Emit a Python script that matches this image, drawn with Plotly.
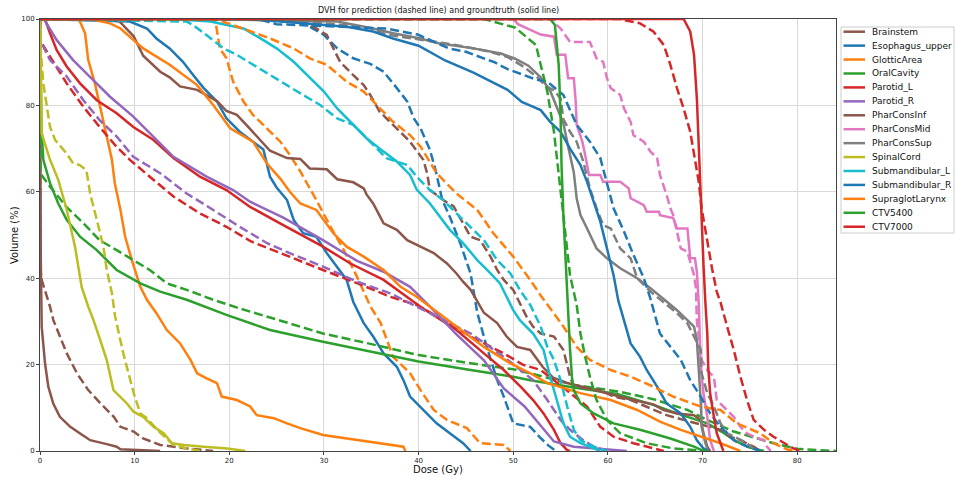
import plotly.graph_objects as go

# ---------------- data (dose in Gy, volume in %) ----------------
roi_names = ["Brainstem", "Esophagus_upper", "GlotticArea", "OralCavity", "Parotid_L",
             "Parotid_R", "PharConsInf", "PharConsMid", "PharConsSup", "SpinalCord",
             "Submandibular_L", "Submandibular_R", "SupraglotLarynx", "CTV5400", "CTV7000"]
roi_colors = ["#8c564b", "#1f77b4", "#ff7f0e", "#2ca02c", "#d62728",
              "#9467bd", "#8c564b", "#e377c2", "#7f7f7f", "#bcbd22",
              "#17becf", "#1f77b4", "#ff7f0e", "#2ca02c", "#d62728"]

brainstem_gt_dose = [0, 0.02, 0.08, 0.18, 0.53, 0.88, 1.4, 2.1, 3.2, 4.2, 5.3, 7.05, 8.1, 8.5, 12.7]
brainstem_gt_vol = [100, 60, 45, 28.8, 20.3, 14.9, 11, 7.9, 5.6, 4.1, 2.5, 1.6, 1, 0.4, 0]
brainstem_pr_dose = [0, 0.03, 0.18, 1.06, 1.41, 2.83, 3.9, 5.1, 6.4, 7.8, 8.5, 9.9, 10.9, 12.7, 15.5, 18.3]
brainstem_pr_vol = [100, 42, 39.6, 33.4, 30.3, 22.6, 18, 14.1, 11, 7.9, 5.6, 4.5, 2.9, 1.4, 0.6, 0]

esophagus_gt_dose = [0, 9.5, 11.3, 12.3, 13.7, 15.1, 16.2, 17.3, 18.7, 19.7, 21.1, 22.5, 23.6, 24.3, 25,
                     26.1, 26.8, 27.8, 29.2, 30.3, 31.4, 32.4, 33.1, 34.2, 35.2, 36.3, 37.7, 38.4, 39.1,
                     40.5, 41.9, 43.3, 44.7, 45.5]
esophagus_gt_vol = [100, 99.4, 97.8, 95.5, 93.2, 90.1, 87, 84, 80.9, 77, 73.9, 71.6, 69.8, 63.5, 61,
                    58.1, 53.5, 50.4, 49.6, 45.8, 42.7, 39.6, 34.5, 29.6, 26.5, 22.6, 19.5, 16.4, 12.6,
                    9.5, 6.4, 4.1, 1.8, 0]
esophagus_pr_dose = [0, 27.5, 28.2, 30, 31.4, 33.1, 34.9, 36.3, 37.7, 38.8, 39.5, 40.2, 41.2, 41.8, 42.5,
                     43.3, 44.4, 45.5, 46.2, 47.2, 48.3, 49, 50, 51.8, 52.8, 53.7, 54.5]
esophagus_pr_vol = [100, 100, 98.6, 96.3, 93.2, 90.9, 89.6, 87.8, 84, 80.9, 77, 74.7, 69.7, 65, 58.1,
                    54.2, 48.1, 41, 32, 24.1, 16.4, 12.6, 6.4, 5.6, 3.2, 1.3, 0]

glottic_gt_dose = [0, 4.1, 4.76, 5.1, 5.8, 6.2, 7.05, 7.6, 7.9, 8.5, 9, 9.7, 10.6, 11.3, 12.3, 13.4, 14.8,
                   15.9, 16.6, 17.6, 18.7, 19.2, 20.8, 22.2, 22.9, 24.7, 26.1, 27.5, 29.9, 34.9, 38.4, 38.6]
glottic_gt_vol = [100, 100, 96.7, 90.5, 85.1, 81.2, 73.5, 67.4, 62, 55.8, 49.6, 44.2, 38, 35, 31.9, 28, 24.9,
                  21.1, 18, 16.8, 15.7, 12.6, 11.8, 10.3, 8.3, 7.6, 6.4, 5.3, 3.7, 2.2, 1, 0]
glottic_pr_dose = [0, 18.5, 19, 19.7, 20.4, 21.5, 22.5, 24, 25.4, 26.4, 27.5, 28.5, 29.2, 30.7, 32.1, 33.5,
                   34.9, 36, 37.3, 39.1, 40.2, 41.6, 43, 45.1, 46.5, 49, 49.7]
glottic_pr_vol = [100, 100, 93.2, 90.9, 85.5, 80.9, 77.8, 74.7, 71.6, 68.5, 64.7, 60.8, 58.1, 51.9, 46.5, 40.3,
                  33.5, 29.6, 21.8, 18, 14.1, 9.5, 7.2, 5.3, 1.8, 1.4, 0]

oral_gt_dose = [0, 0.05, 0.15, 0.35, 1.06, 1.93, 2.82, 4.23, 6.0, 8.1, 10.6, 12.7, 15.5, 19.7, 24.3, 29.9,
                34.9, 40, 45.5, 50, 51.8, 56.4, 61, 65.2, 67.3, 70.5, 72, 73.5, 75, 76.5]
oral_gt_vol = [100, 92, 75, 67.4, 62, 57.3, 53.5, 49.6, 46.5, 41.9, 38.8, 36.9, 35, 31.5, 28, 25.3,
               23, 20.7, 18.75, 17.2, 16.4, 14.7, 13.2, 10.4, 8.7, 6.4, 4.5, 2.3, 0.8, 0]
oral_pr_dose = [0, 0.03, 1.06, 2.8, 4.6, 6.3, 8.1, 9.9, 11.6, 13.4, 15.5, 18.3, 21.1, 24.3, 29.9, 34.9, 40,
                45.5, 50, 51.8, 56.4, 61.3, 64.8, 68.4, 70.5, 73.3, 77.5, 80, 84.1]
oral_pr_vol = [100, 64.3, 61.2, 56.5, 52.7, 48.8, 46.5, 44.2, 41.9, 38.8, 37.3, 35, 33, 30.9, 27.2, 24.8, 22.2,
               20.3, 18.9, 18, 15.3, 13.7, 12, 9.5, 7.2, 4.5, 1.8, 0.5, 0]

parotid_l_gt_dose = [0, 0.53, 1.06, 1.77, 2.82, 4.23, 6, 8.1, 9.86, 12, 14.1, 16.9, 19.7, 22.2, 25.7, 29.9,
                     32.8, 36.3, 40.2, 44, 46.9, 49, 50.9, 52.1, 53.2, 54.3, 55, 55.7, 56]
parotid_l_gt_vol = [100, 100, 96.7, 92.8, 89, 85.1, 81.2, 78.2, 75, 72, 67.8, 63.5, 60.4, 56.5, 52.3, 47.3,
                    43.4, 39.6, 33.4, 28, 22.6, 18.75, 14.6, 11.8, 8.7, 4.9, 1.8, 0.2, 0]
parotid_l_pr_dose = [0, 0.03, 1.06, 2.82, 4.58, 6.3, 8.1, 9.5, 11.6, 14.1, 16.9, 19.7, 22.3, 25.6, 29.9, 33.9,
                     37, 39.8, 42, 45.5, 49, 51, 52.9, 54.3, 56, 57.8, 59.2, 60.6, 62.7, 64.8, 65.9]
parotid_l_pr_vol = [100, 95, 91.3, 85.1, 79.7, 75, 70.4, 67.4, 63.5, 58.9, 55, 51.9, 48.5, 45.6, 41.9, 38.5,
                    35.7, 33.8, 31.1, 26.5, 22.6, 20, 18.75, 16.4, 13.4, 10.3, 5.6, 3.3, 1.8, 0.6, 0]

parotid_r_gt_dose = [0, 0.4, 1.77, 3.5, 5.6, 7.4, 9.86, 12.3, 14.1, 17.6, 20.4, 22.2, 25.7, 29.9, 33.5, 36.3,
                     39.1, 41.2, 44, 46.9, 49, 51.2, 52.1, 53.6, 54.3, 56.4, 59, 62]
parotid_r_gt_vol = [100, 100, 95.1, 90.5, 85.9, 82, 77.4, 72, 68.1, 63.5, 60.4, 57.7, 54, 48.8, 44, 41.5,
                    38, 33.4, 27, 21, 14.5, 10.3, 7.9, 4.1, 2.2, 1, 0.5, 0]
parotid_r_pr_dose = [0, 0.03, 1.06, 2.82, 4.58, 6.3, 8.1, 9.86, 12.7, 15.5, 18.3, 21.1, 24, 26.4, 29.9, 33.5,
                     37, 41.2, 45.5, 49, 50.7, 52.1, 53.6, 55, 56, 57.4, 58.5, 59.9]
parotid_r_pr_vol = [100, 95, 90.5, 86.7, 81.2, 76.6, 72.8, 68.1, 64.3, 59.6, 55.8, 51.9, 48.1, 45.8, 42.7, 39.2,
                    36.5, 31.9, 27.2, 21.8, 18.75, 16.4, 11.8, 7.2, 4.9, 2.5, 1, 0]

pcinf_gt_dose = [0, 7.9, 8.5, 9.9, 10.9, 12, 12.7, 13.7, 14.8, 16.6, 18.7, 19.7, 20.8, 21.8, 23.3, 24.3,
                 26.1, 27.5, 28.5, 30.3, 31.4, 33.1, 34.2, 34.5, 35.2, 36.3, 37.7, 38.8, 40.2, 41.6, 43, 44,
                 44.7, 45.5, 46.9, 48.3, 49.3, 50.4, 51.8, 53.1, 54.2, 55.6, 57.8, 59.6, 62.3, 64.8, 65.9,
                 67.3, 69.1, 69.8, 70.1, 70.5, 70.8]
pcinf_gt_vol = [100, 100, 99.2, 96, 91.5, 89.2, 87.8, 86.5, 84.4, 83.6, 81, 78.7, 77.8, 75.5, 71.8, 69.5,
                67.8, 67.6, 65.4, 65.2, 62.9, 62.2, 60.8, 59.4, 57.3, 52.7, 51.2, 48.8, 47.3, 45.8, 43.4, 41.1,
                39.2, 37.3, 32, 29.6, 26.5, 24.1, 23.4, 19.5, 17, 15.8, 14.6, 13.5, 12, 10.8, 9.5,
                8.7, 8.3, 7.2, 4.1, 1, 0]
pcinf_pr_dose = [0, 27.5, 28.9, 30.3, 31, 31.7, 33.1, 34.2, 34.9, 35.9, 37.3, 39.1, 39.8, 40.5, 40.9, 41.2,
                 42.6, 43.7, 44.7, 45.5, 46.5, 47.6, 48.3, 49, 50, 50.7, 51.4, 52.1, 52.9, 54.3, 55.3, 56,
                 56.4, 59.2, 60.6, 62.4, 64.8, 66.2, 68, 69.4, 70.5, 71.9, 72.9, 74, 75.4, 76.1]
pcinf_pr_vol = [100, 100, 98.2, 96.3, 93.2, 90.1, 87, 84.7, 82.4, 78.5, 75.5, 71.6, 69.5, 67.4, 64.3, 60.4,
                58.1, 56.6, 52.7, 49.6, 48.8, 45, 41.9, 39.6, 37.3, 34, 31.1, 28.8, 27.2, 26.5, 23.4, 17.2,
                14.9, 14.1, 12.6, 11.8, 9.5, 8.3, 7.2, 6.4, 5.6, 4.9, 3.3, 2.5, 1, 0]

pcmid_gt_dose = [0, 50, 50.5, 52.9, 54.3, 54.6, 55.5, 55.8, 56.4, 56.6, 56.7, 57.3, 57.6, 58, 59.2, 59.5,
                 61.3, 62.2, 62.4, 63.8, 64.1, 65.4, 65.5, 66.9, 67.3, 68.4, 68.7, 69.2, 69.4, 69.6, 69.7,
                 69.8, 70.1, 70.5, 70.8, 71.2]
pcmid_gt_vol = [100, 100, 98.8, 96.4, 95.9, 91.7, 91.7, 86.3, 86.3, 80.9, 75.5, 71.6, 68.5, 63.9, 63.9, 62.3,
                62.3, 60.8, 58.5, 56.9, 55.4, 55.4, 54.6, 53.9, 51.5, 51.5, 44.6, 44.6, 41.5, 34, 27,
                19.5, 13.4, 7.9, 2.5, 0]
pcmid_pr_dose = [0, 54.3, 54.6, 55, 56, 58.1, 58.8, 59.5, 59.9, 60.3, 61.3, 61.7, 62.4, 62.7, 63.8, 64.5,
                 65.2, 65.5, 66.2, 66.6, 66.9, 67.3, 67.7, 68.4, 68.7, 69.1, 69.3, 69.4, 69.9, 70.6, 71.2,
                 71.5, 72.2, 72.6, 73.3, 74, 74.7, 75.4, 76.5, 76.8, 77.2]
pcmid_pr_vol = [100, 100, 98.6, 97.8, 94.7, 94.7, 90.9, 90.1, 86.3, 84, 82.4, 79.3, 76.2, 73.1, 71.6, 69.3,
                67.8, 63.9, 59.3, 56.2, 54.6, 50.8, 46.9, 46.1, 43.8, 40.7, 37.7, 30, 21.1, 18.4, 17.2,
                11.8, 10.3, 9.5, 7.9, 5.6, 4.1, 3.3, 2.5, 1, 0]

pcsup_gt_dose = [0, 17.6, 31.4, 35.2, 37.3, 40.2, 42.1, 45.8, 48.7, 50.2, 51.6, 52.9, 53.9, 54.6, 55.3, 55.8,
                 56.4, 56.7, 57.1, 57.8, 58.8, 59.9, 61.3, 63.1, 64.5, 66.2, 67.3, 68.4, 69.1, 69.4, 69.6,
                 69.8, 69.9, 70.3, 70.6]
pcsup_gt_vol = [100, 100, 99.4, 97.8, 96.7, 95.5, 94.4, 93.2, 92, 90.8, 89.2, 86.5, 83.4, 79.6, 75.8, 70.5,
                64.5, 58.5, 54.6, 51.5, 46.9, 44.6, 42.3, 40, 37.7, 34.6, 32.6, 30.3, 28.8, 25.7, 19.5,
                11.8, 5.6, 1.8, 0]
pcsup_pr_dose = [0, 25, 33, 34.8, 36.6, 40.3, 43.9, 47.6, 49.4, 50.9, 52.4, 53.5, 54.3, 55, 55.3, 56, 56.7,
                 57.4, 58.1, 58.8, 59.5, 60.3, 61.3, 62.4, 63.1, 64.5, 65.9, 67.3, 68.4, 69.1, 69.8, 69.9,
                 70.5, 71.2, 71.9, 72.6, 73.3, 74.7, 75.4, 76.1]
pcsup_pr_vol = [100, 100, 98.4, 98, 96.4, 95.2, 94, 92.4, 91.2, 89.2, 86.8, 84.4, 83.5, 81.6, 76.8, 73.9, 71.6,
                67, 60.8, 56.2, 52.3, 51.5, 46.9, 44.6, 40, 36.9, 34.4, 31.9, 29.6, 26.5, 23.4, 18,
                13.4, 10.3, 6.4, 4.1, 3.3, 1.8, 0.6, 0]

spinal_gt_dose = [0, 0.05, 0.18, 0.7, 1.06, 1.94, 2.83, 3.7, 4.4, 5.1, 5.65, 6.36, 7.06, 7.76, 9.18, 9.88,
                  10.9, 12, 13.06, 13.95, 15.2, 17.3, 19.8, 21.7]
spinal_gt_vol = [100, 96, 73.5, 69.7, 67.4, 62.7, 55.8, 47.3, 38, 33.4, 30.3, 25.7, 21, 14.1, 11, 9.1,
                 7.9, 5.6, 4.1, 1.8, 1.4, 1, 0.6, 0]
spinal_pr_dose = [0, 0.1, 0.35, 0.7, 1.06, 1.6, 2.8, 3.5, 4.2, 4.9, 5.3, 6.0, 6.7, 7.06, 7.6, 7.94, 8.8, 9.35,
                  9.9, 10.6, 11.3, 12.4, 13.4, 14.1, 15.5, 17]
spinal_pr_vol = [100, 92, 85.1, 79.7, 75, 72, 68.9, 66.6, 66.2, 65, 59.6, 53.5, 47.3, 41.9, 36.5, 31.1, 22.6, 18,
                 13.4, 8.7, 7.6, 4.9, 2.9, 1.4, 0.6, 0]

submand_l_gt_dose = [0, 14, 18, 19.7, 21.5, 23.3, 25, 26.8, 28.2, 30, 31.4, 33.1, 34.5, 36.3, 37.7, 39.1,
                     39.8, 41.2, 42.3, 43.3, 44.7, 46.2, 47.6, 48.6, 49.3, 50, 50.7, 52.1, 53.2, 53.9, 54.6,
                     55.3, 56, 57.1, 58.5, 59.2]
submand_l_gt_vol = [100, 100, 99.4, 98.6, 97.8, 95.5, 93.2, 90.1, 87, 83.2, 79.3, 75.5, 72.4, 69.3, 67, 63.9,
                    60.5, 57.3, 54.2, 51.2, 48.1, 44.2, 41.1, 38.8, 35.7, 32.6, 30.3, 27.2, 23.4, 17.2, 11.8,
                    6.4, 3.3, 1.8, 0.6, 0]
submand_l_pr_dose = [0, 15.5, 16.2, 17.6, 19.4, 20.8, 22.5, 24.3, 26.1, 27.8, 29.6, 31.4, 33.1, 34.9, 36.6,
                     38.8, 39.8, 41.2, 42.6, 44, 45.5, 46.9, 48.3, 49.7, 50.7, 51.8, 52.9, 53.6, 54.3, 55,
                     55.7, 56.4, 57.1, 58.5, 59.9]
submand_l_pr_vol = [100, 99.4, 98.6, 96.3, 93.2, 91.7, 89.4, 87, 84.7, 82.4, 80.1, 77, 75.5, 71.6, 67.8,
                    66.2, 63.5, 60.4, 58.1, 55, 51.9, 48.8, 44.2, 41.1, 37.3, 33.8, 28.8, 24.1, 21.1, 16.4,
                    10.3, 4.9, 2.5, 1, 0]

submand_r_gt_dose = [0, 22, 25.4, 32.4, 35.2, 37.3, 40, 42.8, 45.8, 48, 49.4, 50.9, 52.9, 53.9, 55, 56, 57.1,
                     57.8, 58.5, 59.2, 59.9, 60.6, 61.1, 61.7, 62.4, 63.4, 64.1, 65.2, 66.2, 67.7, 68.7, 69.4,
                     70.1, 70.6]
submand_r_gt_vol = [100, 100, 99.4, 98.2, 97.1, 95.5, 93.8, 90.4, 87.6, 85.2, 83.6, 80.8, 78.9, 76.2, 73.9, 70,
                    66.2, 62.3, 57.7, 53.1, 46.9, 40.7, 34.8, 30.3, 24.9, 21.8, 18.75, 14.9, 11, 8.7, 5.6, 2.5,
                    0.6, 0]
submand_r_pr_dose = [0, 23, 25, 30, 36.6, 39.9, 43.2, 45, 48, 49.4, 52.4, 53.6, 55.3, 56.7, 58.1, 59.2, 59.9,
                     60.6, 61.7, 62.7, 63.8, 64.5, 65.5, 66.6, 67.7, 68.7, 69.8, 70.8, 71.9, 73.3, 74.7, 76.1]
submand_r_pr_vol = [100, 100, 98.8, 98.4, 97.8, 96.4, 93.2, 92.4, 90, 88.4, 86, 85.5, 82.4, 75.5, 71.6, 67.8,
                    62.3, 56.2, 50.8, 45.4, 40, 35.2, 27.2, 24.1, 21.1, 16.4, 12.6, 8.7, 5.6, 2.5, 1, 0]

supraglot_gt_dose = [0, 5.3, 7.4, 8.5, 10.9, 13.7, 16.6, 18.3, 20.1, 22.5, 24, 25.4, 26.4, 27.5, 29.2, 31,
                     32.4, 34.2, 36.3, 38.1, 39.8, 41.4, 44, 46.9, 49.7, 51.8, 53.6, 57.1, 60.3, 63.1, 65.5,
                     67.7, 69.8, 71.9, 74]
supraglot_gt_vol = [100, 100, 99, 97.8, 93.2, 89.4, 84.7, 80.1, 74.7, 71.6, 66.5, 63, 60, 57.3, 55.8, 50.4,
                    47.3, 45, 41.9, 38, 35.7, 33, 28.8, 24.1, 20.3, 18, 15.7, 13.4, 11.8, 9.5, 6.8,
                    4.9, 3.3, 1.8, 0]
supraglot_pr_dose = [0, 18.8, 21.8, 24.3, 26.8, 28.5, 30.3, 32.4, 34.2, 35.6, 37.3, 39.1, 40.2, 41.9, 44, 46.2,
                     47.9, 50, 51.8, 52.9, 54.3, 55.3, 56.7, 58.1, 60.3, 62.4, 64.8, 66.9, 69.8, 71.9, 73.6,
                     76.1, 77.5, 78.9, 79.6]
supraglot_pr_vol = [100, 99.8, 97.5, 95.5, 93.2, 90.9, 89.4, 85.5, 83.2, 80.1, 76.2, 73.1, 70.5, 64.3, 59.6, 55.8,
                    50.4, 45, 39.6, 36, 31.9, 28.8, 24.1, 21.1, 18.75, 17.2, 14.9, 12.6, 10.3, 9.5, 6.4,
                    4.1, 1.8, 0.4, 0]

ctv54_gt_dose = [0, 53.9, 54.4, 54.8, 55, 55.1, 55.3, 55.5, 55.7, 56, 56.2, 56.4, 57.1, 58.5, 60.6, 63.4,
                 66.6, 69.1, 70.1]
ctv54_gt_vol = [100, 100, 98.6, 89.4, 77.8, 66.2, 54.6, 45.4, 34, 23.4, 17.2, 14.1, 11, 8.7, 6.4, 4.9,
                2.9, 1, 0]
ctv54_pr_dose = [0, 46.9, 50.2, 52.4, 52.9, 53.6, 54.3, 55, 55.5, 56, 56.7, 57.1, 57.6, 58.1, 58.8, 59.9,
                 61.3, 64.1, 66.9, 70.5]
ctv54_pr_vol = [100, 100, 98, 94, 89.4, 83.2, 73.9, 60.8, 50.8, 40.7, 33.8, 27.2, 21.8, 17.2, 11.8, 7.2,
                4.1, 1.8, 0.6, 0]

ctv70_gt_dose = [0, 68, 68.7, 69.1, 69.4, 69.6, 69.8, 69.9, 70.1, 70.3, 70.5, 70.6, 70.8, 71.2, 71.5, 71.9, 72.2]
ctv70_gt_vol = [100, 100, 97.1, 91.7, 81.6, 70, 62.3, 54.6, 43.1, 34.4, 27.2, 19.5, 13.4, 7.9, 4.1, 1.8, 0]
ctv70_pr_dose = [0, 61.2, 63.4, 64.8, 65.9, 66.6, 67.3, 68, 68.7, 69.2, 69.6, 69.9, 70.5, 71, 71.5, 71.9,
                 72.6, 73.3, 74, 74.7, 75.4, 76.5, 77.5, 78.6, 79.6, 80.3]
ctv70_pr_vol = [100, 100, 99, 97.1, 94, 89.4, 84, 79.3, 73.9, 67.8, 62.3, 56.2, 48.4, 42.3, 36.9, 34.4,
                28.8, 23.4, 17.2, 11.8, 7.2, 4.9, 3.3, 1.8, 0.6, 0]

x_ticks = [0, 10, 20, 30, 40, 50, 60, 70, 80]
y_ticks = [0, 20, 40, 60, 80, 100]
x_max = 84.1

# ---------------- assemble ----------------
gt_series = [
    (brainstem_gt_dose, brainstem_gt_vol), (esophagus_gt_dose, esophagus_gt_vol),
    (glottic_gt_dose, glottic_gt_vol), (oral_gt_dose, oral_gt_vol),
    (parotid_l_gt_dose, parotid_l_gt_vol), (parotid_r_gt_dose, parotid_r_gt_vol),
    (pcinf_gt_dose, pcinf_gt_vol), (pcmid_gt_dose, pcmid_gt_vol), (pcsup_gt_dose, pcsup_gt_vol),
    (spinal_gt_dose, spinal_gt_vol), (submand_l_gt_dose, submand_l_gt_vol),
    (submand_r_gt_dose, submand_r_gt_vol), (supraglot_gt_dose, supraglot_gt_vol),
    (ctv54_gt_dose, ctv54_gt_vol), (ctv70_gt_dose, ctv70_gt_vol)]
pr_series = [
    (brainstem_pr_dose, brainstem_pr_vol), (esophagus_pr_dose, esophagus_pr_vol),
    (glottic_pr_dose, glottic_pr_vol), (oral_pr_dose, oral_pr_vol),
    (parotid_l_pr_dose, parotid_l_pr_vol), (parotid_r_pr_dose, parotid_r_pr_vol),
    (pcinf_pr_dose, pcinf_pr_vol), (pcmid_pr_dose, pcmid_pr_vol), (pcsup_pr_dose, pcsup_pr_vol),
    (spinal_pr_dose, spinal_pr_vol), (submand_l_pr_dose, submand_l_pr_vol),
    (submand_r_pr_dose, submand_r_pr_vol), (supraglot_pr_dose, supraglot_pr_vol),
    (ctv54_pr_dose, ctv54_pr_vol), (ctv70_pr_dose, ctv70_pr_vol)]

W, H = 956, 478
ML, MR, MT, MB = 40, 120, 19, 27
PW, PH = W - ML - MR, H - MT - MB
FONT = "DejaVu Sans"


def paper_x(px):
    return (px - ML) / PW


def paper_y(py):
    return (H - MB - py) / PH


fig = go.Figure()
for name, color, (gx, gy), (px_, py_) in zip(roi_names, roi_colors, gt_series, pr_series):
    fig.add_trace(go.Scatter(x=gx, y=gy, mode="lines", name=name,
                             line=dict(color=color, width=2.5), showlegend=False))
    fig.add_trace(go.Scatter(x=px_, y=py_, mode="lines", name=name + " (pred)",
                             line=dict(color=color, width=2.5, dash="9px,4px"), showlegend=False))

# legend drawn as shapes + text (matplotlib-like compact legend)
shapes = [dict(type="rect", xref="paper", yref="paper",
               x0=paper_x(841), x1=paper_x(954), y0=paper_y(233), y1=paper_y(27),
               line=dict(color="#cccccc", width=1), fillcolor="white", layer="above")]
annotations = []
for i, (name, color) in enumerate(zip(roi_names, roi_colors)):
    yy = 31.7 + 13.93 * i
    shapes.append(dict(type="line", xref="paper", yref="paper",
                       x0=paper_x(843.5), x1=paper_x(865), y0=paper_y(yy), y1=paper_y(yy),
                       line=dict(color=color, width=2.5), layer="above"))
    annotations.append(dict(text=name, xref="paper", yref="paper", x=paper_x(870), y=paper_y(yy),
                            xanchor="left", yanchor="middle", showarrow=False,
                            font=dict(family=FONT, size=9, color="#111")))

annotations.append(dict(text="DVH for prediction (dashed line) and groundtruth (solid line)",
                        xref="paper", yref="paper", x=0.5, y=paper_y(11), xanchor="center",
                        yanchor="middle", showarrow=False, font=dict(family=FONT, size=8, color="#111")))
annotations.append(dict(text="Dose (Gy)", xref="paper", yref="paper", x=0.5, y=paper_y(469),
                        xanchor="center", yanchor="middle", showarrow=False,
                        font=dict(family=FONT, size=10, color="#111")))
annotations.append(dict(text="Volume (%)", xref="paper", yref="paper", x=paper_x(14), y=0.5,
                        xanchor="center", yanchor="middle", showarrow=False, textangle=-90,
                        font=dict(family=FONT, size=10, color="#111")))

axis_common = dict(showgrid=True, gridcolor="#d9d9d9", gridwidth=1, zeroline=False,
                   showline=True, mirror=True, linecolor="#444", linewidth=1,
                   ticks="outside", ticklen=3, tickwidth=1, tickcolor="#444",
                   tickfont=dict(family=FONT, size=7, color="#222"))

fig.update_layout(
    width=W, height=H, margin=dict(l=ML, r=MR, t=MT, b=MB, autoexpand=False),
    paper_bgcolor="white", plot_bgcolor="white", showlegend=False,
    xaxis=dict(range=[0, x_max], tickvals=x_ticks, **axis_common),
    yaxis=dict(range=[0, 100], tickvals=y_ticks, **axis_common),
    shapes=shapes, annotations=annotations,
)

fig.write_html("out.html")
